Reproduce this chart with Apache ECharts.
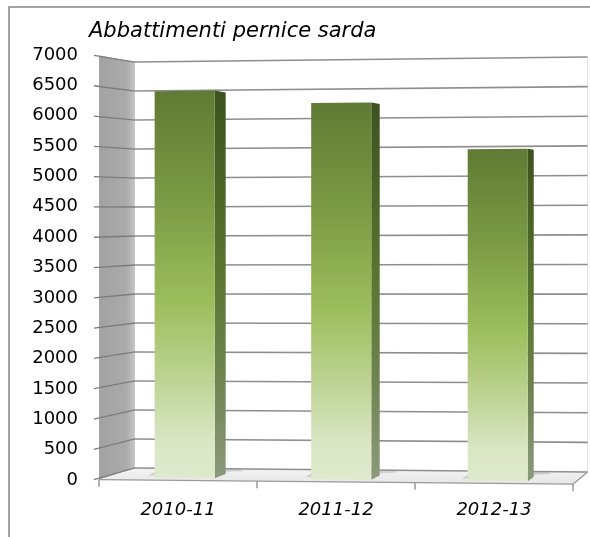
<!DOCTYPE html>
<html><head><meta charset="utf-8">
<script src="https://cdn.jsdelivr.net/npm/echarts@6/dist/echarts.min.js"></script>
<style>html,body{margin:0;padding:0;background:#fff}#c{width:590px;height:537px}</style>
</head><body><div id="c"></div>
<script>
// ---- data ----
const chartTitle = 'Abbattimenti pernice sarda';
const categories = ['2010-11', '2011-12', '2012-13'];
const values = [6420, 6200, 5420];
const yTicks = [0, 500, 1000, 1500, 2000, 2500, 3000, 3500, 4000, 4500, 5000, 5500, 6000, 6500, 7000];
const yMin = 0, yMax = 7000, yStep = 500;

// ---- pseudo-3D projection helpers (style only) ----
const VP = [898, 212];
const K_BACK = 0.955, K_BAR = 0.9907, K_SIDE = 0.984;
function persp(p, k) { return [VP[0] + k * (p[0] - VP[0]), VP[1] + k * (p[1] - VP[1])]; }
function tilt(p) { const f = 1 + 4.96e-5 * (p[0] - 135); return [p[0], 288 + f * (p[1] - 288)]; }
function proj(p, k) { return tilt(persp(p, k)); }

const FONT = 'DejaVu Sans';

function renderWalls(params, api) {
  const cs = params.coordSys;
  const x0 = cs.x, x1 = cs.x + cs.width;
  const yTop = api.coord([0, yMax])[1];
  const yBot = api.coord([0, yMin])[1];
  const children = [];
  // left side wall
  const lFT = tilt([x0, yTop]), lFB = tilt([x0, yBot]);
  const lBT = proj([x0, yTop], K_BACK), lBB = proj([x0, yBot], K_BACK);
  children.push({
    type: 'polygon', shape: { points: [lFT, lBT, lBB, lFB] },
    style: { fill: new echarts.graphic.LinearGradient(0, 0, 1, 0, [
      { offset: 0, color: '#a2a2a2' }, { offset: 0.75, color: '#aaaaaa' }, { offset: 1, color: '#c6c6c6' }]) }
  });
  // floor
  const fFR = tilt([x1, yBot]);
  const fBR = proj([x1, yBot], K_BACK);
  children.push({
    type: 'polygon', shape: { points: [lFB, lBB, fBR, fFR] },
    style: { fill: new echarts.graphic.LinearGradient(0, 0, 0, 1, [
      { offset: 0, color: '#f4f4f4' }, { offset: 1, color: '#e6e6e6' }]) }
  });
  // back wall right edge (faint)
  children.push({ type: 'line', shape: { x1: proj([x1, yTop], K_BACK)[0], y1: proj([x1, yTop], K_BACK)[1], x2: fBR[0], y2: fBR[1] },
    style: { stroke: '#e2e2e2', lineWidth: 1 } });
  // gridlines
  yTicks.forEach(function (v) {
    const yf = api.coord([0, v])[1];
    const a = tilt([x0 - 5, yf]);
    const b = proj([x0, yf], K_BACK);
    const c = proj([x1, yf], K_BACK);
    children.push({ type: 'line', shape: { x1: a[0], y1: a[1], x2: b[0], y2: b[1] }, style: { stroke: '#7c7c7c', lineWidth: 1.3 } });
    children.push({ type: 'line', shape: { x1: b[0], y1: b[1], x2: c[0], y2: c[1] }, style: { stroke: '#8e8e8e', lineWidth: 1.6 } });
  });
  // floor front edge & right edge
  children.push({ type: 'line', shape: { x1: lFB[0], y1: lFB[1], x2: fFR[0], y2: fFR[1] }, style: { stroke: '#9a9a9a', lineWidth: 1.3 } });
  children.push({ type: 'line', shape: { x1: fFR[0], y1: fFR[1], x2: fBR[0], y2: fBR[1] }, style: { stroke: '#9a9a9a', lineWidth: 1.3 } });
  // x ticks at category boundaries
  const bw = api.size([1, 0])[0];
  for (let i = 0; i <= categories.length; i++) {
    const xc = (i < categories.length ? api.coord([i, 0])[0] - bw / 2 : api.coord([i - 1, 0])[0] + bw / 2);
    const p = tilt([xc, yBot]);
    children.push({ type: 'line', shape: { x1: p[0], y1: p[1], x2: p[0], y2: p[1] + 7 }, style: { stroke: '#8a8a8a', lineWidth: 1.3 } });
  }
  return { type: 'group', children: children };
}

function renderBar(params, api) {
  const i = api.value(0), v = api.value(1);
  const top = api.coord([i, v]);
  const bot = api.coord([i, 0]);
  const w = api.size([1, 0])[0] * 0.384;
  const TL = proj([top[0] - w / 2, top[1]], K_BAR);
  const TR = proj([top[0] + w / 2, top[1]], K_BAR);
  const BR = proj([top[0] + w / 2, bot[1]], K_BAR);
  const BL = proj([top[0] - w / 2, bot[1]], K_BAR);
  const TR2 = proj([top[0] + w / 2, top[1]], K_BAR * K_SIDE);
  const BR2 = proj([top[0] + w / 2, bot[1]], K_BAR * K_SIDE);
  return {
    type: 'group',
    children: [
      { type: 'polygon', shape: { points: [[BL[0] - 6, BL[1] - 2], [BR2[0] + 18, BR2[1] - 3], [BR2[0] + 12, BR2[1] - 6], [BL[0], BL[1] - 6]] },
        style: { fill: 'rgba(150,150,150,0.35)' } },
      { type: 'polygon', shape: { points: [TR, TR2, BR2, BR] },
        style: { fill: new echarts.graphic.LinearGradient(0, 0, 0, 1, [
          { offset: 0, color: '#3c521e' }, { offset: 0.45, color: '#58742f' }, { offset: 0.75, color: '#6f8552' }, { offset: 1, color: '#8c9a7c' }]) } },
      { type: 'polygon', shape: { points: [TL, TR, BR, BL] },
        style: { fill: new echarts.graphic.LinearGradient(0, 0, 0, 1, [
          { offset: 0, color: '#5f7b34' }, { offset: 0.3, color: '#7d9c45' }, { offset: 0.55, color: '#9dbe5d' }, { offset: 0.75, color: '#bed495' }, { offset: 0.9, color: '#d9e6c3' }, { offset: 1, color: '#dfe9cd' }]) } }
    ]
  };
}

const chart = echarts.init(document.getElementById('c'), null, { renderer: 'canvas' });
chart.setOption({
  backgroundColor: '#ffffff',
  animation: false,
  title: {
    text: chartTitle, left: 84, top: 16,
    textStyle: { fontFamily: FONT, fontStyle: 'italic', fontWeight: 'normal', fontSize: 21, color: '#000' }
  },
  graphic: [{ type: 'rect', shape: { x: 9, y: 7, width: 700, height: 700 }, style: { fill: 'none', stroke: '#878787', lineWidth: 1.5 }, silent: true, z: 100 }],
  grid: { left: 99, right: 17, top: 55, bottom: 57 },
  xAxis: {
    type: 'category', data: categories,
    axisLine: { show: false }, axisTick: { show: false }, splitLine: { show: false },
    axisLabel: { margin: 21, fontFamily: FONT, fontStyle: 'italic', fontSize: 18, color: '#000' }
  },
  yAxis: {
    type: 'value', min: yMin, max: yMax, interval: yStep,
    axisLine: { show: false }, axisTick: { show: false }, splitLine: { show: false },
    axisLabel: { margin: 21, fontFamily: FONT, fontSize: 18, color: '#000', formatter: function (v) { return String(v); } }
  },
  series: [
    { type: 'custom', renderItem: renderWalls, data: [[0, 0]], z: 1, silent: true, clip: false },
    { type: 'custom', renderItem: renderBar, data: values.map(function (v, i) { return [i, v]; }), z: 5, clip: false }
  ]
});
</script>
</body></html>
